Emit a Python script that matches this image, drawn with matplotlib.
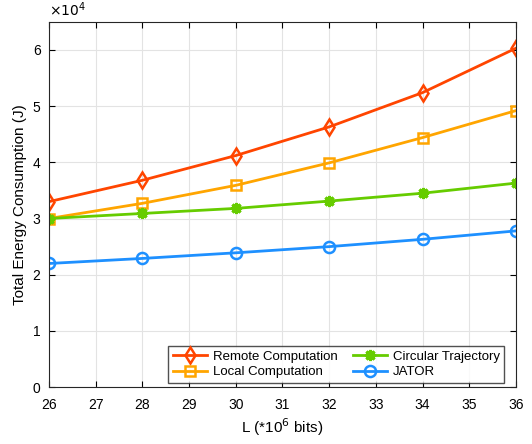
# Total energy consumption vs. task size L
import matplotlib.pyplot as plt

plt.rcParams['font.family'] = ['Liberation Sans', 'DejaVu Sans']

# ==== DATA (energy in units of 1e4 J) ====
L = [26, 28, 30, 32, 34, 36]
remote = [3.30, 3.68, 4.12, 4.63, 5.24, 6.03]
local = [3.00, 3.27, 3.59, 3.99, 4.44, 4.92]
circular = [3.00, 3.09, 3.18, 3.31, 3.45, 3.63]
jator = [2.20, 2.29, 2.39, 2.50, 2.63, 2.78]

# ==== PLOT ====
fig = plt.figure(figsize=(5.32, 4.44), dpi=100)
ax = fig.add_axes([0.092, 0.128, 0.878, 0.823])

ax.plot(L, remote, color="#FF4500", lw=2, marker="d", ms=8, mfc="none", mew=1.8,
        label="Remote Computation")
ax.plot(L, local, color="#FFA500", lw=2, marker="s", ms=7, mfc="none", mew=1.8,
        label="Local Computation")
ax.plot(L, circular, color="#66CC00", lw=2, marker=(8, 2, 0), ms=8, mew=2.2,
        label="Circular Trajectory")
ax.plot(L, jator, color="#1E90FF", lw=2, marker="o", ms=8, mfc="none", mew=1.8,
        label="JATOR")

ax.set_xlim(26, 36)
ax.set_ylim(0, 6.5)
ax.set_xticks(range(26, 37))
ax.set_yticks(range(0, 7))
ax.tick_params(direction="in", labelsize=10, top=True, right=True, length=4)
ax.tick_params(axis="x", pad=8)
ax.tick_params(axis="y", pad=6)
ax.grid(True, color="#e3e3e3", lw=0.8)
ax.set_axisbelow(True)
for s in ax.spines.values():
    s.set_color("#262626")
    s.set_linewidth(0.8)

ax.set_xlabel("L (*10$^6$ bits)", fontsize=11, labelpad=3)
ax.set_ylabel("Total Energy Consumption (J)", fontsize=11)
ax.text(0.0, 1.008, r"$\times10^4$", transform=ax.transAxes, fontsize=10,
        ha="left", va="bottom")

ax.legend(loc="lower right", bbox_to_anchor=(0.975, 0.012), ncol=2, fontsize=9.5,
          frameon=True, fancybox=False, edgecolor="#262626", handlelength=2.6,
          handletextpad=0.4, columnspacing=1.2, borderpad=0.35, labelspacing=0.25,
          borderaxespad=0.0)

plt.savefig("out.png", dpi=100)
